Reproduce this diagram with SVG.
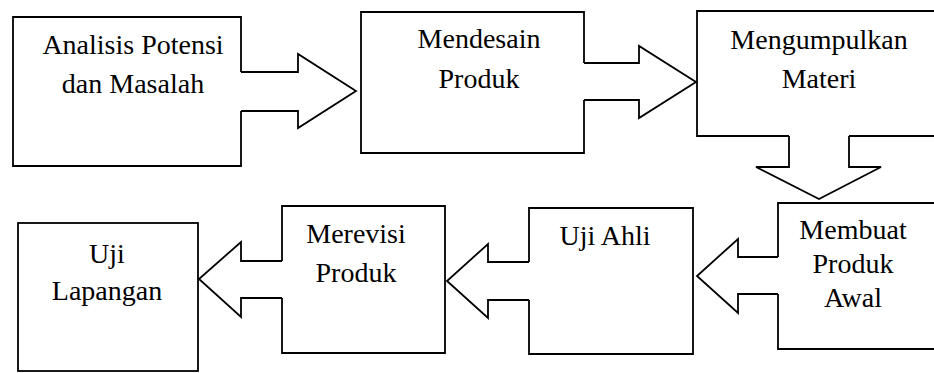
<svg xmlns="http://www.w3.org/2000/svg" width="934" height="373" viewBox="0 0 934 373">
  <style>
    .shape { fill: none; stroke: #000; stroke-width: 1.8; stroke-linejoin: miter; }
    .label { font-family: "Liberation Serif", Tinos, "Noto Serif", "DejaVu Serif", FreeSerif, Times, serif; font-size: 28px; fill: #000; text-anchor: middle; }
  </style>
  <rect x="0" y="0" width="934" height="373" fill="#fff"/>

  <g id="node-analisis">
    <path class="shape" d="M241,72 V17 H13 V166 H241 V111"/>
    <text class="label" x="133" y="54">Analisis Potensi</text>
    <text class="label" x="133" y="93">dan Masalah</text>
  </g>

  <g id="node-mendesain">
    <path class="shape" d="M584,63 V12 H361 V153 H584 V100"/>
    <text class="label" x="479" y="48">Mendesain</text>
    <text class="label" x="479" y="88">Produk</text>
  </g>

  <g id="node-mengumpulkan">
    <path class="shape" d="M789,136 H697 V11 H940 V136 H849"/>
    <text class="label" x="819" y="49">Mengumpulkan</text>
    <text class="label" x="819" y="88">Materi</text>
  </g>

  <g id="node-membuat">
    <path class="shape" d="M778,257 V203 H940 V349 H778 V294"/>
    <text class="label" x="853" y="239">Membuat</text>
    <text class="label" x="853" y="273">Produk</text>
    <text class="label" x="853" y="307">Awal</text>
  </g>

  <g id="node-ujiahli">
    <path class="shape" d="M529,262 V208 H693 V354 H529 V300"/>
    <text class="label" x="605" y="245">Uji Ahli</text>
  </g>

  <g id="node-merevisi">
    <path class="shape" d="M282,261 V206 H445 V353 H282 V298"/>
    <text class="label" x="356" y="243">Merevisi</text>
    <text class="label" x="356" y="282">Produk</text>
  </g>

  <g id="node-ujilapangan">
    <rect class="shape" x="18" y="223" width="180" height="148"/>
    <text class="label" x="107" y="263">Uji</text>
    <text class="label" x="107" y="300">Lapangan</text>
  </g>

  <g id="connectors">
    <path class="shape" d="M241,72 H298 V54 L356,91 L298,128 V111 H241"/>
    <path class="shape" d="M584,63 H639 V46 L696,82 L639,118 V100 H584"/>
    <path class="shape" d="M789,136 V167 H756 L819,199 L881,167 H849 V136"/>
    <path class="shape" d="M778,257 H738 V239 L697,276 L738,313 V294 H778"/>
    <path class="shape" d="M529,262 H488 V244 L447,281 L488,318 V300 H529"/>
    <path class="shape" d="M282,261 H241 V242 L199,279 L241,317 V298 H282"/>
  </g>
</svg>
